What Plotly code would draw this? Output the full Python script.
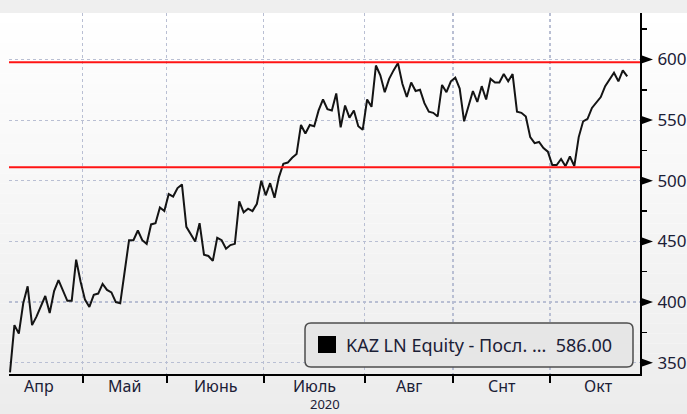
import plotly.graph_objects as go

# ---------------- data ----------------
prices = [
    342, 381, 374, 399, 413, 381, 388, 396, 405, 391,
    409, 418, 409, 401, 401, 435, 417, 402, 396, 406,
    407, 415, 410, 408, 400, 399, 425, 451, 451, 459,
    451, 448, 464, 465, 478, 475, 489, 487, 494, 497,
    462, 456, 450, 465, 439, 438, 434, 453, 451, 444,
    447, 448, 483, 474, 477, 475, 481, 500, 488, 498,
    486, 503, 514, 515, 519, 522, 546, 539, 546, 545,
    558, 567, 559, 558, 572, 544, 562, 552, 558, 545,
    542, 567, 561, 595, 587, 573, 584, 591, 597, 580,
    569, 581, 574, 575, 564, 557, 556, 553, 579, 573,
    582, 585, 576, 549, 561, 574, 565, 578, 567, 584,
    581, 581, 588, 582, 588, 557, 556, 553, 536, 531,
    532, 527, 524, 513, 513, 518, 512, 520, 512, 536,
    549, 551, 560, 565, 569, 578, 584, 589, 582, 591,
    586,
]
month_labels = ["Апр", "Май", "Июнь", "Июль", "Авг", "Снт", "Окт"]
month_trading_days = [20, 19, 22, 23, 20, 22, 22]
first_day_offset = 3          # series starts on the 4th trading day of April
year_label = "2020"
y_ticks = [350, 400, 450, 500, 550, 600]
levels = [597.7, 511.2]       # red horizontal levels
legend_name = "KAZ LN Equity - Посл. ..."

# ---------------- layout constants ----------------
W, H = 687, 414
L, R, T, B = 9, 47, 13, 40
PW, PH = W - L - R, H - T - B
FONT = "Noto Sans"
TXT = "#1b2036"
GRID = "#b9bfd3"

def px_x(p):
    return (p - L) / PW

def px_y(p):
    return (H - B - p) / PH

x = list(range(len(prices)))

# month boundaries (between trading days) and label centres
bounds = [-first_day_offset - 0.5]
for d in month_trading_days:
    bounds.append(bounds[-1] + d)
inner_bounds = bounds[1:-1]
centres = [(a + b) / 2 for a, b in zip(bounds[:-1], bounds[1:])]

fig = go.Figure()
fig.add_trace(go.Scatter(
    x=x, y=prices, mode="lines",
    line=dict(color="#141414", width=2),
    showlegend=False, hoverinfo="skip",
))

shapes = []
# background gradient
n = 40
top, bot = T, H
for k in range(n):
    y0 = top + (bot - top) * k / n
    y1 = top + (bot - top) * (k + 1) / n
    c = round(255 - (255 - 236) * (k + 0.5) / n)
    shapes.append(dict(type="rect", xref="paper", yref="paper",
                       x0=px_x(0), x1=px_x(W), y0=px_y(y1), y1=px_y(y0),
                       fillcolor=f"rgb({c},{c},{c})", line=dict(width=0),
                       layer="below"))
# top grey strip
shapes.append(dict(type="rect", xref="paper", yref="paper",
                   x0=px_x(0), x1=px_x(W), y0=1, y1=px_y(0),
                   fillcolor="#efefef", line=dict(width=0), layer="below"))

# red levels
for lv in levels:
    shapes.append(dict(type="line", xref="paper", yref="y",
                       x0=0, x1=1, y0=lv, y1=lv,
                       line=dict(color="#ff1414", width=2)))

# arrow-shaped major ticks on right axis
aw = 13 / PW
ah = 4.6 * (50 / 60.65)
for v in y_ticks:
    shapes.append(dict(type="path", xref="paper", yref="y",
                       path=f"M 1,{v - ah} L {1 + aw},{v} L 1,{v + ah} Z",
                       fillcolor="black", line=dict(width=0)))

# legend box (rounded)
bx0, bx1, by0, by1, rr = 305, 633, 323, 367, 6
def P(px, py):
    return f"{px_x(px):.5f},{px_y(py):.5f}"
path = (f"M {P(bx0 + rr, by0)} L {P(bx1 - rr, by0)} Q {P(bx1, by0)} {P(bx1, by0 + rr)} "
        f"L {P(bx1, by1 - rr)} Q {P(bx1, by1)} {P(bx1 - rr, by1)} "
        f"L {P(bx0 + rr, by1)} Q {P(bx0, by1)} {P(bx0, by1 - rr)} "
        f"L {P(bx0, by0 + rr)} Q {P(bx0, by0)} {P(bx0 + rr, by0)} Z")
shapes.append(dict(type="path", xref="paper", yref="paper", path=path,
                   fillcolor="#e6e6e6", line=dict(color="#4d4d4d", width=1.5)))
shapes.append(dict(type="rect", xref="paper", yref="paper",
                   x0=px_x(318), x1=px_x(336), y0=px_y(353), y1=px_y(336),
                   fillcolor="black", line=dict(width=0)))

annotations = []
for lab, c in zip(month_labels, centres):
    annotations.append(dict(x=c, xref="x", y=px_y(386), yref="paper",
                            text=lab, showarrow=False, xanchor="center",
                            yanchor="middle", borderpad=0,
                            font=dict(family=FONT, size=16, color=TXT)))
annotations.append(dict(x=0.5, xref="paper", y=px_y(414), yref="paper",
                        text=year_label, showarrow=False, xanchor="center",
                        yanchor="bottom", borderpad=0,
                        font=dict(family=FONT, size=13, color=TXT)))
annotations.append(dict(x=px_x(344), xref="paper", y=px_y(345), yref="paper",
                        text=f"{legend_name}\u00a0\u00a0{prices[-1]:.2f}",
                        showarrow=False, xanchor="left", yanchor="middle",
                        font=dict(family=FONT, size=18, color=TXT)))

fig.update_layout(
    width=W, height=H,
    margin=dict(l=L, r=R, t=T, b=B, pad=0, autoexpand=False),
    paper_bgcolor="white", plot_bgcolor="rgba(0,0,0,0)",
    shapes=shapes, annotations=annotations,
    showlegend=False,
    xaxis=dict(
        range=[-0.23, 142.9], tickvals=inner_bounds, showticklabels=False,
        ticks="outside", ticklen=7, tickwidth=2, tickcolor="black",
        showgrid=True, gridcolor=GRID, griddash="3px,3px", gridwidth=1.2,
        showline=True, linecolor="black", linewidth=2, automargin=False,
        zeroline=False, fixedrange=True,
    ),
    yaxis=dict(
        range=[340.7, 638.3], side="right", tickvals=y_ticks,
        ticks="outside", ticklen=12, tickcolor="rgba(0,0,0,0)",
        tickfont=dict(family=FONT, size=17, color=TXT),
        showgrid=True, gridcolor=GRID, griddash="3px,3px", gridwidth=1.2,
        showline=True, linecolor="black", linewidth=2, automargin=False,
        zeroline=False, fixedrange=True,
        minor=dict(dtick=25, tick0=0, ticks="outside", ticklen=5,
                   tickwidth=1.5, tickcolor="black", showgrid=False),
    ),
)

fig.write_html(
    "out.html",
    config={"displayModeBar": False, "staticPlot": True},
    post_script="document.body.style.margin='0';document.body.style.padding='0';"
                "document.body.style.overflow='hidden';",
)
